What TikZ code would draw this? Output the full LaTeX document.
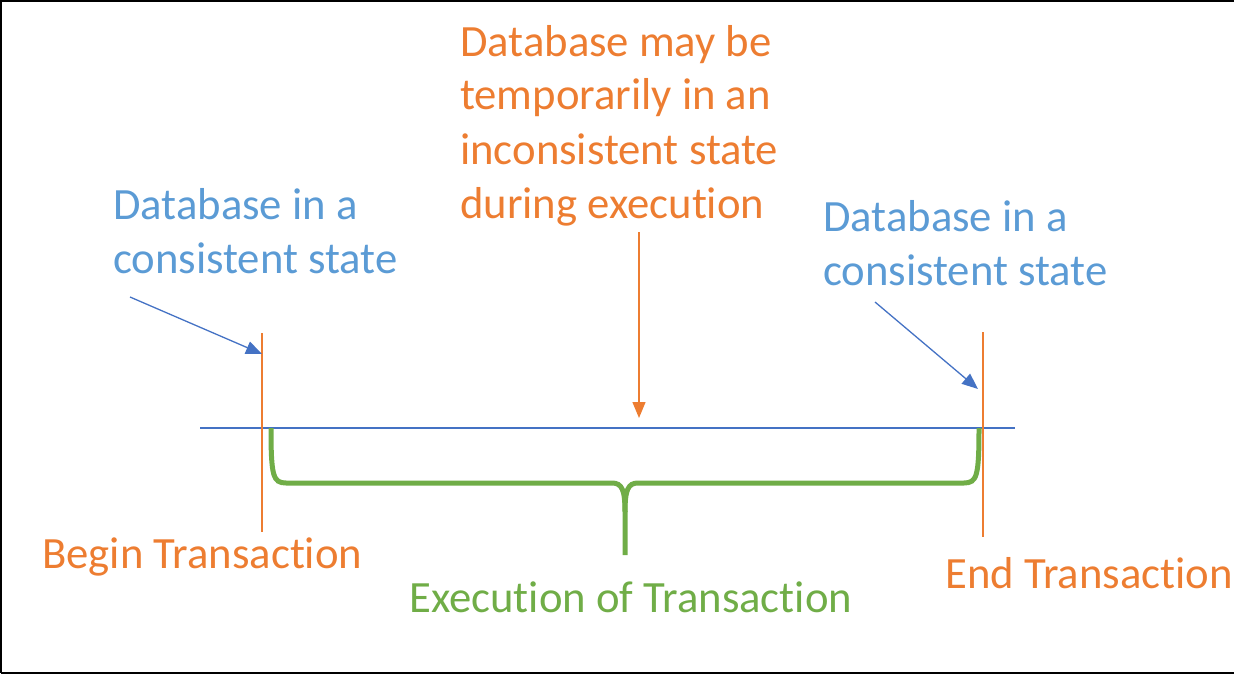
\documentclass[tikz,border=0pt]{standalone}
\usepackage{fontspec}
\setmainfont[Ligatures=NoCommon]{Carlito}
\usetikzlibrary{arrows.meta}
\definecolor{txtblue}{HTML}{5B9BD5}
\definecolor{lineblue}{HTML}{4472C4}
\definecolor{orng}{HTML}{ED7D31}
\definecolor{grn}{HTML}{70AD47}

\begin{document}
\begin{tikzpicture}[x=1pt,y=-1pt,every node/.style={inner sep=0,align=left,anchor=base west,
font=\fontsize{44.7}{54}\selectfont},
tip/.style={-{Triangle[length=16,width=13]}}]
\useasboundingbox (0,0) rectangle (1234,674);
\draw[line width=2] (1,673) -- (1,1) -- (1234,1);
\draw[line width=2] (1,673) -- (1234,673);

% time line
\coordinate (t0) at (200,428);
\coordinate (t1) at (1015,428);
\draw[lineblue,line width=1.3] (t0) -- (t1);

% begin and end marks
\coordinate (b0) at (262,333);
\coordinate (b1) at (262,532);
\coordinate (e0) at (983,332);
\coordinate (e1) at (983,537);
\draw[orng,line width=1.3] (b0) -- (b1);
\draw[orng,line width=1.3] (e0) -- (e1);

% texts (base = last line)
\node[txtblue] (cs1) at (113,273) {Database in a\\consistent state};
\node[txtblue] (cs2) at (823,285) {Database in a\\consistent state};
\node[orng] (tmp) at (460,218) {Database may be\\temporarily in an\\inconsistent state\\during execution};
\node[orng] (bt) at (42,568) {Begin Transaction};
\node[orng] (et) at (945,588) {End Transaction};
\node[grn] (ex) at (409,612) {Execution of Transaction};

% arrows
\coordinate (a1) at (130,297);
\coordinate (a1t) at (262,354);
\coordinate (a2) at (875,302);
\coordinate (a2t) at (978,389);
\coordinate (a3) at (639,232);
\coordinate (a3t) at (639,418);
\draw[lineblue,line width=1.3,tip] (a1) -- (a1t);
\draw[lineblue,line width=1.3,tip] (a2) -- (a2t);
\draw[orng,line width=1.3,tip] (a3) -- (a3t);

% brace
\draw[grn,line width=5] (271,428) .. controls (271,476) and (273,483) .. (286,483)
 -- (612,483) .. controls (622,483) and (625,490) .. (625,512) -- (625,555);
\draw[grn,line width=5] (625,512) .. controls (625,490) and (628,483) .. (638,483)
 -- (964,483) .. controls (977,483) and (979,476) .. (979,428);
\end{tikzpicture}
\end{document}
